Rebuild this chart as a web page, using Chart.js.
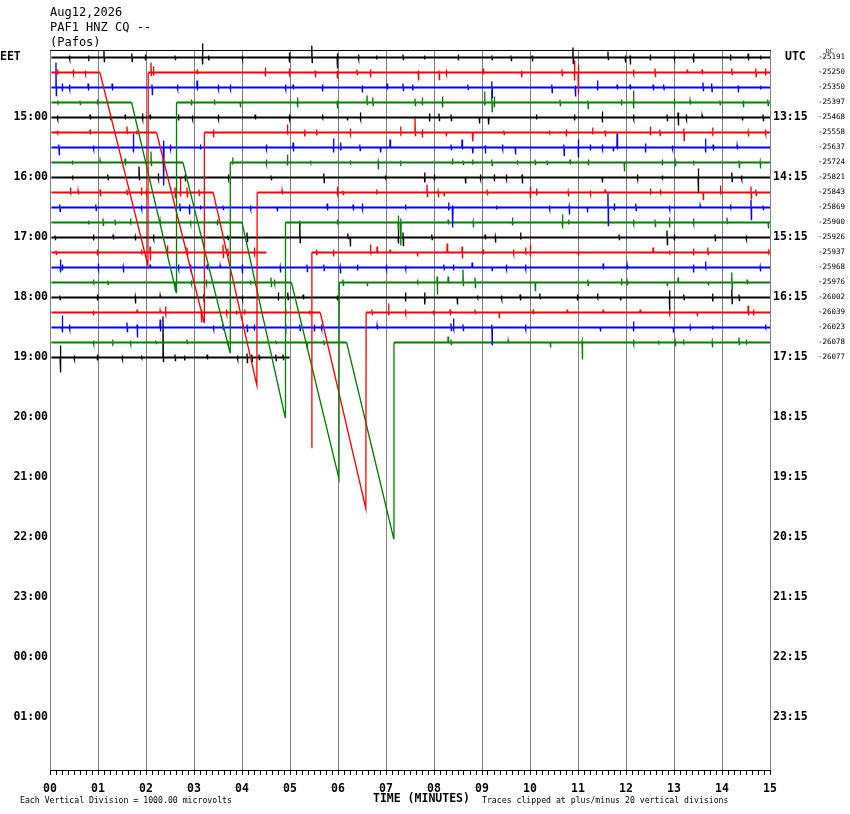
<!DOCTYPE html>
<html>
<head>
<meta charset="utf-8">
<title>PAF1 HNZ CQ</title>
<script src="https://cdn.jsdelivr.net/npm/chart.js@4"></script>
<style>
  body { margin: 0; background: #fff; }
  #wrap { position: relative; width: 850px; height: 814px; }
  #chart { position: absolute; left: 0; top: 0; }
  .t { position: absolute; font-family: "DejaVu Sans Mono", monospace; color: #000; white-space: pre; line-height: 1; }
  .b { font-weight: bold; font-size: 11.5px; }
  .s { font-size: 8.2px; }
</style>
</head>
<body>
<div id="wrap">
  <canvas id="chart" width="850" height="814"></canvas>
  <div class="t" style="left:50px;top:6px;font-size:12px">Aug12,2026</div>
  <div class="t" style="left:50px;top:21px;font-size:12px">PAF1 HNZ CQ --</div>
  <div class="t" style="left:50px;top:36px;font-size:12px">(Pafos)</div>
  <div class="t b" style="left:0px;top:51px">EET</div>
  <div class="t b" style="left:785px;top:51px">UTC</div>
  <div class="t" style="left:826px;top:48px;font-size:6px">DC</div>
  <div class="t s" style="left:20px;top:796px">Each Vertical Division = 1000.00 microvolts</div>
  <div class="t b" style="left:373px;top:793px">TIME (MINUTES)</div>
  <div class="t s" style="left:482px;top:796px">Traces clipped at plus/minus 20 vertical divisions</div>
</div>
<script>
// axis labels
const minuteLabels = ['00','01','02','03','04','05','06','07','08','09','10','11','12','13','14','15'];
const eetLabels = ['15:00','16:00','17:00','18:00','19:00','20:00','21:00','22:00','23:00','00:00','01:00'];
const utcLabels = ['13:15','14:15','15:15','16:15','17:15','18:15','19:15','20:15','21:15','22:15','23:15'];
const dcLabels = ['-25191','-25250','-25350','-25397','-25468','-25558','-25637','-25724','-25821','-25843',
  '-25869','-25900','-25926','-25937','-25968','-25976','-26002','-26039','-26023','-26078','-26077'];
const traceColors = ['#000000', '#ff0000', '#0000ff', '#007f00'];

// wiggles per trace: [minute, up, down]  (amplitude in pixels of the original plot)
const tr00 = [[0.4,2,2],[0.8,2,1],[1.12,7,4],[1.7,4,4],[1.98,3,3],[2.6,2,2],[3.17,14,7],[3.3,2,3],[4.0,2,2],[4.98,5,5],[5.45,12,5],[5.98,4,11],[6.42,3,2],[6.8,2,2],[7.35,3,2],[7.8,2,2],[8.5,3,3],[9.2,2,2],[9.6,2,3],[10.04,2,4],[10.89,10,6],[11.62,6,2],[11.98,2,5],[12.08,2,7],[12.5,3,3],[13.0,2,2],[13.4,4,5],[14.17,3,3],[14.54,4,3],[14.8,2,2]];
const tr01 = [[0.15,3,1],[0.48,3,2],[0.73,2,2],[2.1,10,3],[2.15,6,3],[3.06,3,2],[4.48,5,4],[4.98,4,2],[5.52,2,5],[5.98,2,6],[6.39,3,2],[6.67,3,5],[7.67,2,8],[8.1,2,7],[8.25,3,2],[9.02,4,2],[9.82,2,5],[10.66,3,3],[10.92,12,8],[11.0,8,22],[12.15,3,2],[12.6,4,4],[13.27,3,1],[13.58,3,2],[14.2,4,2],[14.7,4,4],[14.9,4,3]];
const tr02 = [[0.12,25,8],[0.25,4,4],[0.4,3,2],[0.79,4,3],[1.29,4,3],[2.12,3,7],[2.65,3,2],[3.06,7,3],[3.5,3,2],[3.75,3,2],[4.9,3,2],[5.06,3,2],[5.67,3,4],[6.5,2,5],[7.02,4,2],[7.35,4,3],[7.55,3,3],[8.7,3,2],[9.2,6,10],[10.45,3,5],[10.94,2,9],[11.4,7,3],[11.81,3,2],[12.08,3,2],[12.56,3,3],[12.78,3,2],[13.6,5,3],[13.78,4,4],[14.33,2,5],[14.8,2,2]];
const tr03 = [[0.15,2,1],[0.62,2,2],[0.98,3,1],[2.94,3,3],[3.42,3,1],[3.96,1,5],[5.15,5,5],[5.98,2,6],[6.6,7,2],[6.72,5,3],[7.6,4,3],[7.75,5,3],[8.17,6,5],[9.05,11,3],[9.2,12,9],[9.25,6,5],[10.62,3,3],[11.2,2,6],[11.9,3,3],[12.15,12,6],[13.0,4,2],[13.33,2,2],[13.95,2,2],[14.44,2,5],[14.95,3,3]];
const tr04 = [[0.15,2,2],[0.83,3,2],[1.25,2,1],[1.56,3,2],[1.92,4,2],[2.08,3,2],[2.67,3,3],[2.96,2,2],[3.5,3,2],[4.27,3,2],[4.98,3,2],[5.67,3,1],[6.19,1,3],[6.46,5,2],[7.9,4,4],[8.1,4,3],[8.35,3,3],[8.94,1,6],[9.13,1,7],[10.13,3,2],[10.92,3,3],[11.5,6,5],[12.15,3,2],[12.85,3,3],[13.08,5,8],[13.25,3,2],[13.58,2,1],[14.42,1,3],[14.85,3,3]];
const tr05 = [[0.15,2,1],[0.83,3,2],[1.6,6,1],[1.8,2,2],[3.4,3,5],[4.94,8,1],[5.3,3,4],[5.55,3,3],[6.25,4,2],[7.3,6,1],[7.6,16,3],[7.75,3,5],[8.25,1,4],[8.8,1,9],[9.45,2,2],[10.4,2,1],[10.75,3,4],[11.3,5,2],[11.56,2,4],[12.5,6,3],[12.7,3,3],[13.2,4,8],[13.8,5,1],[14.54,1,4],[14.9,3,2]];
const tr06 = [[0.18,3,7],[0.9,2,2],[1.73,14,5],[2.36,7,38],[2.5,3,2],[3.13,3,2],[4.5,3,2],[5.06,5,4],[5.9,9,5],[6.05,5,3],[6.45,3,3],[6.88,1,5],[7.08,8,1],[8.35,3,2],[8.58,8,2],[8.8,1,6],[9.06,2,6],[9.42,3,2],[9.69,1,7],[10.7,3,8],[11.0,8,10],[11.25,3,3],[11.5,3,2],[11.73,1,4],[11.81,14,2],[12.4,4,5],[12.96,2,2],[13.65,9,5],[13.81,3,3],[14.31,2,2]];
const tr07 = [[0.46,2,1],[1.04,2,1],[1.56,4,3],[2.1,11,3],[2.35,3,2],[3.8,5,2],[4.5,3,2],[4.94,8,3],[5.42,2,1],[6.25,2,1],[6.83,1,7],[7.3,2,1],[8.38,4,2],[8.6,2,2],[8.8,3,2],[9.2,3,3],[9.73,2,1],[10.1,3,2],[10.35,2,2],[10.83,3,2],[11.21,3,3],[11.96,1,9],[12.75,3,3],[13.02,1,4],[13.4,2,1],[14.35,2,5],[14.79,1,6]];
const tr08 = [[0.46,2,1],[1.2,3,2],[1.85,11,2],[2.25,4,2],[2.81,1,4],[3.71,3,2],[4.6,2,2],[5.7,4,5],[6.98,2,1],[7.8,5,5],[8.0,3,3],[8.65,1,6],[8.96,3,2],[9.25,3,4],[9.5,3,2],[9.83,3,6],[11.5,1,5],[12.23,3,2],[12.75,2,1],[13.5,9,15],[14.2,5,4],[14.4,2,2]];
const tr09 = [[0.42,5,1],[0.58,2,2],[1.04,3,4],[1.6,3,2],[1.9,5,3],[2.0,3,2],[2.6,5,5],[2.71,15,4],[2.85,5,4],[3.1,3,3],[4.83,2,2],[5.98,6,2],[6.1,2,2],[6.8,3,2],[7.85,8,4],[8.08,1,5],[8.2,1,3],[9.1,3,2],[10.0,6,6],[10.13,4,3],[10.79,1,4],[11.25,2,2],[11.56,3,1],[12.5,4,1],[12.71,3,1],[13.6,1,7],[13.96,7,1],[14.6,6,6],[14.7,3,3]];
const tr10 = [[0.2,3,4],[0.95,3,3],[1.9,2,2],[2.7,4,3],[2.9,3,7],[3.13,2,2],[3.6,2,2],[4.17,2,2],[4.73,1,4],[5.77,4,3],[6.31,3,3],[6.5,4,2],[7.4,3,1],[8.3,5,3],[8.38,2,20],[9.3,2,2],[10.4,2,2],[10.81,1,7],[11.19,1,5],[11.62,15,18],[11.75,4,3],[12.2,4,3],[12.9,2,2],[13.54,2,1],[14.17,3,1],[14.6,8,12],[14.85,2,2]];
const tr11 = [[0.8,2,2],[1.1,4,3],[1.35,3,2],[1.67,4,1],[2.29,2,2],[2.92,2,2],[3.48,3,3],[5.2,2,2],[5.98,3,1],[7.25,7,8],[7.3,4,23],[8.29,3,2],[8.81,1,5],[9.63,5,3],[10.67,8,6],[10.8,3,2],[12.15,3,2],[12.6,3,4],[12.9,5,5],[13.4,4,2],[14.1,5,1],[14.96,1,6]];
const tr12 = [[0.1,2,2],[0.9,3,3],[1.31,3,2],[1.77,1,3],[2.15,3,2],[3.7,2,2],[4.1,5,4],[5.2,15,5],[6.2,4,1],[6.25,1,9],[7.25,13,6],[7.35,5,8],[7.95,3,2],[9.06,3,2],[9.27,1,5],[9.8,5,2],[11.85,3,2],[12.85,7,7],[13.0,3,3],[13.85,3,3],[14.5,2,2]];
const tr13 = [[0.12,2,2],[0.98,3,3],[1.9,3,1],[2.08,6,8],[2.44,7,1],[2.85,5,2],[3.6,8,5],[3.7,4,3],[4.25,5,2],[5.55,3,3],[5.9,3,4],[6.67,8,1],[6.81,6,1],[7.08,3,1],[7.65,1,4],[8.27,9,1],[8.58,6,6],[9.02,3,2],[9.65,3,2],[9.9,5,1],[10.0,8,4],[11.0,1,3],[12.56,5,1],[12.9,2,1],[13.4,4,3],[13.7,5,2],[14.96,3,1]];
const tr14 = [[0.21,8,5],[0.25,3,3],[1.0,4,2],[1.52,1,5],[2.08,3,1],[2.67,3,2],[2.92,3,2],[3.27,3,2],[3.54,2,1],[4.0,3,6],[4.79,1,5],[5.35,3,4],[5.7,3,3],[6.04,1,6],[6.4,3,3],[7.0,3,2],[7.4,2,2],[8.2,3,2],[8.4,3,3],[8.79,5,1],[9.2,1,3],[9.5,3,2],[9.9,3,2],[11.52,4,2],[12.02,2,2],[13.4,3,5],[13.65,6,1],[14.79,1,4]];
const tr15 = [[0.9,3,1],[1.2,2,2],[2.6,1,8],[2.94,2,2],[3.25,3,2],[4.17,2,1],[4.6,5,4],[4.67,3,2],[6.1,3,3],[6.6,1,3],[7.65,3,1],[8.06,6,12],[8.29,6,1],[8.6,13,3],[8.85,5,5],[10.1,1,8],[11.2,3,3],[11.9,4,3],[12.02,1,3],[12.85,1,3],[13.08,5,1],[13.71,1,3],[14.2,10,7],[14.52,3,2]];
const tr16 = [[0.2,2,2],[0.98,3,3],[1.77,1,6],[2.29,2,1],[3.2,3,4],[4.0,2,2],[4.75,5,3],[4.95,5,2],[5.27,3,2],[5.98,2,3],[7.4,5,4],[7.8,5,7],[8.48,1,7],[8.9,2,1],[9.4,2,2],[9.79,3,3],[10.2,4,1],[10.98,3,3],[11.4,4,1],[11.88,1,3],[12.9,7,12],[13.2,3,2],[13.8,4,4],[14.2,8,6],[14.35,3,3]];
const tr17 = [[0.9,2,3],[1.81,3,1],[2.29,2,1],[2.4,6,2],[3.15,3,10],[3.67,3,2],[3.88,2,2],[4.05,3,2],[4.9,3,1],[5.4,2,1],[6.7,3,2],[7.05,9,3],[7.4,3,2],[7.98,2,1],[8.33,3,3],[8.85,3,1],[9.35,1,5],[10.06,3,2],[10.77,3,1],[11.52,3,1],[12.29,3,1],[12.9,5,2],[13.48,1,4],[14.54,7,3],[14.65,3,3]];
const tr18 = [[0.25,12,5],[0.4,3,2],[1.6,5,4],[1.81,3,10],[2.29,8,4],[3.4,2,2],[3.6,3,2],[4.1,3,4],[4.25,3,3],[4.9,3,2],[5.2,3,3],[5.5,3,4],[5.65,3,2],[6.81,2,2],[8.35,4,3],[8.4,9,2],[8.6,3,3],[9.2,3,17],[9.9,3,2],[11.46,1,4],[12.15,6,4],[12.98,1,5],[13.33,1,3],[13.8,2,2],[14.9,3,1]];
const tr19 = [[0.9,2,2],[1.3,3,1],[1.67,2,2],[2.2,2,1],[2.85,3,1],[3.7,2,2],[4.7,2,1],[5.35,1,6],[5.7,2,2],[8.29,6,1],[8.35,3,2],[9.54,2,1],[10.42,1,5],[11.08,1,17],[12.15,3,2],[12.67,2,1],[13.02,1,4],[13.19,3,1],[13.79,1,5],[14.35,5,2],[14.5,3,1]];
const tr20 = [[0.21,12,15],[0.5,2,2],[0.98,3,3],[1.5,2,2],[1.9,2,1],[2.35,41,4],[2.6,3,3],[2.8,2,3],[3.27,3,2],[3.9,2,2],[4.1,4,5],[4.2,3,4],[4.35,3,2],[4.7,3,3],[4.85,3,2]];
const traceWiggles = [tr00,tr01,tr02,tr03,tr04,tr05,tr06,tr07,tr08,tr09,tr10,tr11,tr12,tr13,tr14,tr15,tr16,tr17,tr18,tr19,tr20];

// data gaps drawn as a slope: [trace, start minute, resume minute, drop]
const gaps = [[1,1.04,2.04,193],[3,1.70,2.63,190],[5,2.22,3.21,190],[7,2.77,3.75,190],[9,3.40,4.31,193],
  [11,4.00,4.90,195],[15,5.03,6.02,196],[17,5.63,6.58,196],[19,6.18,7.16,196]];
// gap with no slope drawn: [trace, end minute, resume minute, drop]
const breaks = [[13,4.51,5.45,195]];
// traces that stop early: [trace, last minute]
const traceEnds = [[20,4.99]];

const PX = 1 / 15;          // one trace slot is 15 px tall
const FONT = '"DejaVu Sans Mono", monospace';

function buildTrace(i) {
  const base = i + 0.5;
  const ev = traceWiggles[i].map(w => ({ t: w[0], kind: 'w', up: w[1], dn: w[2] }));
  gaps.filter(g => g[0] === i).forEach(g => ev.push({ t: g[1], kind: 'g', end: g[2], drop: g[3] }));
  breaks.filter(b => b[0] === i).forEach(b => ev.push({ t: b[1], kind: 'b', end: b[2], drop: b[3] }));
  ev.sort((a, b) => a.t - b.t);
  const pts = [{ x: 0.03, y: base }];
  ev.forEach(e => {
    pts.push({ x: e.t, y: base });
    if (e.kind === 'w') {
      pts.push({ x: e.t + 0.004, y: base - e.up * PX });
      pts.push({ x: e.t + 0.012, y: base + e.dn * PX });
      pts.push({ x: e.t + 0.016, y: base });
    } else if (e.kind === 'g') {
      pts.push({ x: e.end, y: base + e.drop * PX });
      pts.push({ x: e.end + 0.006, y: base });
    } else {
      pts.push({ x: e.t + 0.002, y: null });
      pts.push({ x: e.end, y: base + e.drop * PX });
      pts.push({ x: e.end + 0.006, y: base });
    }
  });
  const stop = traceEnds.find(s => s[0] === i);
  pts.push({ x: stop ? stop[1] : 15, y: base });
  return pts;
}

const datasets = traceWiggles.map((w, i) => ({
  data: buildTrace(i),
  borderColor: traceColors[i % 4],
  borderWidth: 1,
  pointRadius: 0,
  tension: 0,
  spanGaps: false,
  clip: false,
  segment: {
    borderWidth: ctx => (ctx.p0.parsed.y === ctx.p1.parsed.y ? 2 : 1.3)
  }
}));

// tick positions
const minuteTicks = [];
minuteLabels.forEach((l, m) => {
  if (m < 15) { for (let k = 0; k < 8; k++) minuteTicks.push(m + k / 8); }
  else minuteTicks.push(15);
});
const hourSlots = eetLabels.map((l, k) => 4 * (k + 1) + 0.5);
const dcSlots = dcLabels.map((l, k) => k + 0.5);

const yBase = {
  type: 'linear', min: 0, max: 48, reverse: true,
  grid: { display: false, drawTicks: false },
  border: { display: false }
};

new Chart(document.getElementById('chart'), {
  type: 'line',
  data: { datasets: datasets },
  options: {
    responsive: false,
    animation: false,
    devicePixelRatio: 1,
    layout: { padding: { top: 50, left: 0, right: 0, bottom: 0 } },
    plugins: { legend: { display: false }, tooltip: { enabled: false } },
    scales: {
      x: {
        type: 'linear', position: 'bottom', min: 0, max: 15,
        afterBuildTicks: ax => { ax.ticks = minuteTicks.map(v => ({ value: v })); },
        afterFit: ax => { ax.height = 44; },
        ticks: {
          autoSkip: false, maxRotation: 0, minRotation: 0, padding: 7, color: '#000',
          font: { family: FONT, size: 11.5, weight: 'bold' },
          callback: v => (Number.isInteger(v) ? minuteLabels[v] : '')
        },
        grid: {
          color: c => (c.tick && Number.isInteger(c.tick.value) ? '#808080' : 'rgba(0,0,0,0)'),
          tickColor: '#000', tickLength: 5, lineWidth: 1
        },
        border: { display: true, color: '#000', width: 1 }
      },
      xTop: {
        type: 'linear', position: 'top', min: 0, max: 15,
        afterFit: ax => { ax.height = 0; },
        ticks: { display: false },
        grid: { drawOnChartArea: false, drawTicks: false },
        border: { display: true, color: '#000', width: 1 }
      },
      y: Object.assign({}, yBase, {
        position: 'left',
        afterBuildTicks: ax => { ax.ticks = hourSlots.map(v => ({ value: v })); },
        afterFit: ax => { ax.width = 50; },
        ticks: { autoSkip: false, padding: 2, color: '#000', font: { family: FONT, size: 11.5, weight: 'bold' },
          callback: (v, i) => eetLabels[i] }
      }),
      utc: Object.assign({}, yBase, {
        position: 'right', weight: 0,
        afterBuildTicks: ax => { ax.ticks = hourSlots.map(v => ({ value: v })); },
        afterFit: ax => { ax.width = 45; },
        ticks: { autoSkip: false, padding: 3, color: '#000', font: { family: FONT, size: 11.5, weight: 'bold' },
          callback: (v, i) => utcLabels[i] }
      }),
      dc: Object.assign({}, yBase, {
        position: 'right', weight: 1,
        afterBuildTicks: ax => { ax.ticks = dcSlots.map(v => ({ value: v })); },
        afterFit: ax => { ax.width = 35; },
        ticks: { autoSkip: false, padding: 3, color: '#000', font: { family: FONT, size: 7.5 },
          callback: (v, i) => dcLabels[i] }
      })
    }
  }
});
</script>
</body>
</html>
